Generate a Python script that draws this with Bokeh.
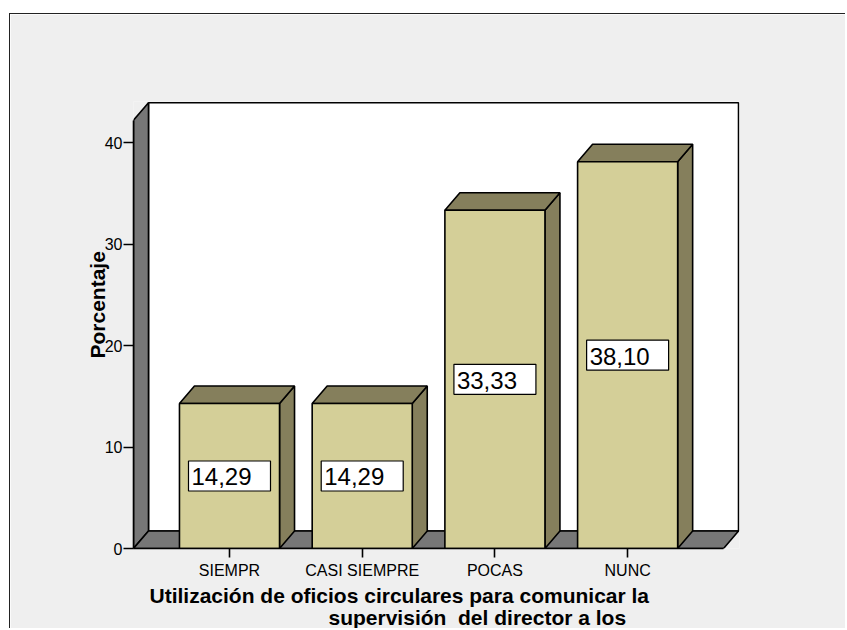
from bokeh.plotting import figure
from bokeh.models import ColumnDataSource, FixedTicker, Title
from bokeh.core.properties import value
from bokeh.embed import file_html
from bokeh.resources import INLINE

# ---- data ----
categories = ["SIEMPR", "CASI SIEMPRE", "POCAS", "NUNC"]
percentages = [14.29, 14.29, 33.33, 38.10]
value_labels = ["14,29", "14,29", "33,33", "38,10"]
y_ticks = [0, 10, 20, 30, 40]
y_axis_title = "Porcentaje"
x_title_line1 = "Utilización de oficios circulares para comunicar la"
x_title_line2 = "supervisión\u00a0 del director a los"

# ---- 3D frame geometry (data units) ----
X0 = -0.7234      # front-left edge of the floor / left wall
X1 = 3.7226       # front-right edge of the floor
YTOP = 42.2       # front top of the left wall
DX = 0.113        # depth offset in x
DY = 1.724        # depth offset in y
BAR_W = 0.754

FONT = "Liberation Sans"
FRONT = "#d4cf98"
SHADE = "#857f5c"
WALL = "#777777"
BG = "#efefef"

p = figure(width=836, height=615, output_backend="svg", toolbar_location=None,
           x_range=(X0, 3.843), y_range=(0, 44.04),
           min_border_left=123, min_border_right=107,
           min_border_top=87, min_border_bottom=81,
           background_fill_color=BG, border_fill_color=BG,
           outline_line_color=None, margin=(13, 0, 0, 9))
p.styles = {"border-top": "1px solid #222222", "border-left": "1px solid #222222"}
p.grid.visible = False

# back wall, left wall, floor
p.quad(left=[X0 + DX], right=[X1 + DX], bottom=[DY], top=[YTOP + DY],
       fill_color="white", line_color="black", line_width=1.6)
p.patch([X0, X0, X0 + DX, X0 + DX], [0, YTOP, YTOP + DY, DY],
        fill_color=WALL, line_color="black", line_width=1.6)
p.patch([X0, X1, X1 + DX, X0 + DX], [0, 0, DY, DY],
        fill_color=WALL, line_color="black", line_width=1.6)

# bars
idx = list(range(len(categories)))
lefts = [i - BAR_W / 2 for i in idx]
rights = [i + BAR_W / 2 for i in idx]
top_xs = [[l, r, r + DX, l + DX] for l, r in zip(lefts, rights)]
top_ys = [[v, v, v + DY, v + DY] for v in percentages]
side_xs = [[r, r + DX, r + DX, r] for r in rights]
side_ys = [[0, DY, v + DY, v] for v in percentages]

p.patches(side_xs, side_ys, fill_color=SHADE, line_color="black", line_width=1.6)
p.patches(top_xs, top_ys, fill_color=SHADE, line_color="black", line_width=1.6)
p.vbar(x=idx, width=BAR_W, bottom=0, top=percentages,
       fill_color=FRONT, line_color="black", line_width=1.6)

# value labels: white boxes + text
src = ColumnDataSource(dict(x=idx, y=[v / 2 for v in percentages], t=value_labels))
p.rect(x="x", y="y", width=82, height=30, width_units="screen", height_units="screen",
       source=src, fill_color="white", line_color="black", line_width=1.2)
p.text(x="x", y="y", text="t", source=src, x_offset=-38, y_offset=1,
       text_align="left", text_baseline="middle",
       text_font=value(FONT), text_font_size="24px", text_color="black")

# axes
yax = p.yaxis[0]
yax.ticker = FixedTicker(ticks=y_ticks)
yax.bounds = (0, YTOP)
yax.axis_line_color = "black"
yax.axis_line_width = 1.6
yax.major_tick_line_width = 1.6
yax.major_tick_out = 10
yax.major_tick_in = 0
yax.minor_tick_line_color = None
yax.major_label_standoff = 1
yax.major_label_text_font = FONT
yax.major_label_text_font_size = "16px"
yax.major_label_text_color = "black"

xax = p.xaxis[0]
xax.ticker = FixedTicker(ticks=idx)
xax.major_label_overrides = {i: c for i, c in zip(idx, categories)}
xax.bounds = (X0, X1)
xax.axis_line_color = "black"
xax.axis_line_width = 1.6
xax.major_tick_line_width = 1.6
xax.major_tick_out = 9
xax.major_tick_in = 0
xax.minor_tick_line_color = None
xax.major_label_standoff = 4
xax.major_label_text_font = FONT
xax.major_label_text_font_size = "16px"
xax.major_label_text_color = "black"

# axis titles
p.add_layout(Title(text=y_axis_title, align="left", offset=190, standoff=-14,
                   text_font=FONT, text_font_size="21px", text_font_style="bold",
                   text_color="black"), "left")
p.add_layout(Title(text=x_title_line1, align="left", offset=16, standoff=0,
                   text_font=FONT, text_font_size="21px", text_font_style="bold",
                   text_color="black"), "below")
p.add_layout(Title(text=x_title_line2, align="left", offset=195, standoff=-6,
                   text_font=FONT, text_font_size="21px", text_font_style="bold",
                   text_color="black"), "below")

open("out.html", "w").write(file_html(p, INLINE))
